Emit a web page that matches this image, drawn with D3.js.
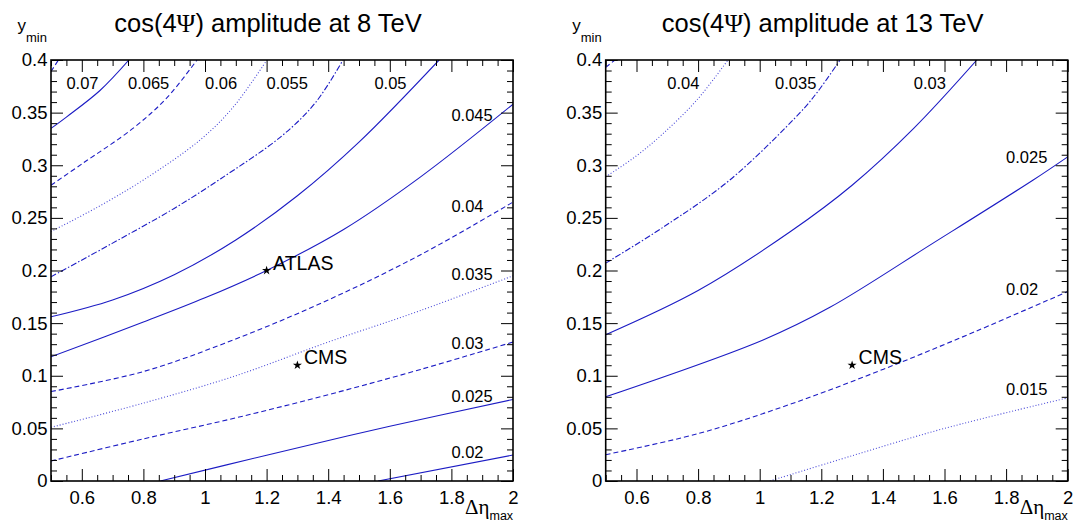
<!DOCTYPE html>
<html>
<head>
<meta charset="utf-8">
<script src="https://cdn.jsdelivr.net/npm/d3@7"></script>
<style>
body { margin: 0; background: #fff; }
svg { display: block; }
text { font-family: "Liberation Sans", Arial, sans-serif; fill: #000; }
</style>
</head>
<body>
<div id="chart"></div>
<script>
// axis ranges and ticks
var xDomain = [0.5, 2],
	yDomain = [0, 0.4];
var xTickValues = [0.6, 0.8, 1, 1.2, 1.4, 1.6, 1.8, 2];
var xTickLabels = ["0.6", "0.8", "1", "1.2", "1.4", "1.6", "1.8", "2"];
var yTickValues = [0, 0.05, 0.1, 0.15, 0.2, 0.25, 0.3, 0.35, 0.4];
var yTickLabels = ["0", "0.05", "0.1", "0.15", "0.2", "0.25", "0.3", "0.35", "0.4"];

// 8 TeV contours, [deta_max, y_min]
var levels8 = [0.075, 0.07, 0.065, 0.06, 0.055, 0.05, 0.045, 0.04, 0.035, 0.03, 0.025, 0.02];
var lines8 = [
	[[0.5, 0.389], [0.524, 0.4]],
	[[0.5, 0.335], [0.551, 0.346], [0.659, 0.371], [0.753, 0.4]],
	[[0.5, 0.281], [0.604, 0.302], [0.766, 0.335], [0.876, 0.364], [0.974, 0.4]],
	[[0.5, 0.237], [0.65, 0.26], [0.8, 0.286], [0.984, 0.324], [1.091, 0.355], [1.201, 0.4]],
	[[0.5, 0.194], [0.7, 0.226], [0.9, 0.259], [1.05, 0.287], [1.25, 0.328], [1.36, 0.36], [1.448, 0.4]],
	[[0.5, 0.156], [0.7, 0.172], [0.9, 0.196], [1.1, 0.229], [1.3, 0.271], [1.5, 0.322], [1.76, 0.4]],
	[[0.5, 0.118], [0.8, 0.151], [1.0, 0.174], [1.2, 0.2], [1.45, 0.239], [1.7, 0.289], [2, 0.358]],
	[[0.5, 0.085], [0.8, 0.104], [1.1, 0.135], [1.4, 0.172], [1.7, 0.215], [2, 0.265]],
	[[0.5, 0.051], [0.8, 0.074], [1.1, 0.1], [1.4, 0.132], [1.7, 0.162], [2, 0.195]],
	[[0.5, 0.019], [0.8, 0.04], [1.1, 0.06], [1.4, 0.082], [1.7, 0.106], [2, 0.132]],
	[[0.855, 0], [1.2, 0.0245], [1.6, 0.052], [2, 0.0775]],
	[[1.562, 0], [2, 0.0247]]
];
var styles8 = ["dashed", "solid", "dashed", "dotted", "dashdot", "solid", "solid", "dashed", "dotted", "dashed", "solid", "solid"];
var labelText8 = ["0.07", "0.065", "0.06", "0.055", "0.05", "0.045", "0.04", "0.035", "0.03", "0.025", "0.02"];
var labelAt8 = [[0.55, 0.372], [0.75, 0.372], [1.0, 0.372], [1.2, 0.372], [1.55, 0.372],
	[1.8, 0.342], [1.8, 0.256], [1.8, 0.191], [1.8, 0.125], [1.8, 0.075], [1.8, 0.022]];
var expNames8 = ["ATLAS", "CMS"];
var expPoints8 = [[1.2, 0.2], [1.3, 0.11]];

// 13 TeV contours
var levels13 = [0.045, 0.04, 0.035, 0.03, 0.025, 0.02, 0.015];
var lines13 = [
	[[0.5, 0.393], [0.53, 0.4]],
	[[0.5, 0.289], [0.6, 0.309], [0.686, 0.33], [0.796, 0.362], [0.897, 0.4]],
	[[0.5, 0.207], [0.686, 0.241], [0.903, 0.286], [1.131, 0.35], [1.186, 0.369], [1.261, 0.4]],
	[[0.5, 0.139], [0.8, 0.181], [1.1, 0.237], [1.3, 0.281], [1.5, 0.335], [1.705, 0.4]],
	[[0.5, 0.08], [1.011, 0.134], [1.228, 0.165], [1.563, 0.226], [1.888, 0.286], [2, 0.308]],
	[[0.5, 0.025], [0.8, 0.045], [1.1, 0.073], [1.4, 0.106], [1.7, 0.142], [2, 0.18]],
	[[1.033, 0], [1.3, 0.024], [1.6, 0.05], [2, 0.079]]
];
var styles13 = ["dashed", "dotted", "dashdot", "solid", "solid", "dashed", "dotted"];
var labelText13 = ["0.04", "0.035", "0.03", "0.025", "0.02", "0.015"];
var labelAt13 = [[0.7, 0.372], [1.05, 0.372], [1.5, 0.372], [1.8, 0.302], [1.8, 0.177], [1.8, 0.082]];
var expNames13 = ["CMS"];
var expPoints13 = [[1.3, 0.11]];

var svgContainer,
	width = 1073,
	height = 522,
	frameWidth = 462,
	frameHeight = 421;

var dashes = {solid: null, dashed: "5,3", dotted: "1,2", dashdot: "6,2,1.5,2"};

function onLoad() {
	svgContainer = d3.select("#chart")
	.append("svg")
	.attr("width", width)
	.attr("height", height);

	drawPanel(1, 51, 60, "8", lines8, styles8, labelText8, labelAt8, expNames8, expPoints8);
	drawPanel(2, 605.7, 60, "13", lines13, styles13, labelText13, labelAt13, expNames13, expPoints13);
}

function drawPanel(id, left, top, energy, lines, styles, labelText, labelAt, expNames, expPoints) {
	var xScale = d3.scaleLinear().domain(xDomain).range([0, frameWidth]);
	var yScale = d3.scaleLinear().domain(yDomain).range([frameHeight, 0]);

	var g = svgContainer.append("g")
	.attr("transform", "translate(" + left + "," + top + ")");

	g.append("clipPath")
	.attr("id", "clip" + id)
	.append("rect")
	.attr("width", frameWidth)
	.attr("height", frameHeight);

	var line = d3.line()
	.x(d => xScale(d[0]))
	.y(d => yScale(d[1]))
	.curve(d3.curveCatmullRom.alpha(0.5));

	g.append("g")
	.attr("clip-path", "url(#clip" + id + ")")
	.selectAll("path")
	.data(lines)
	.join("path")
	.attr("d", line)
	.attr("fill", "none")
	.attr("stroke", (d, i) => styles[i] === "dotted" ? "#4a4ad8" : "#1c1cc4")
	.attr("stroke-width", 1.1)
	.attr("stroke-dasharray", (d, i) => dashes[styles[i]]);

	drawAxes(g, xScale, yScale);

	g.selectAll("text.level")
	.data(labelText)
	.join("text")
	.attr("class", "level")
	.attr("x", (d, i) => xScale(labelAt[i][0]))
	.attr("y", (d, i) => yScale(labelAt[i][1]))
	.attr("font-size", 16.5)
	.text(d => d);

	expPoints.forEach((p, i) => {
		g.append("path")
		.attr("d", d3.symbol().type(d3.symbolStar).size(26))
		.attr("transform", "translate(" + xScale(p[0]) + "," + yScale(p[1]) + ")")
		.attr("fill", "#000");

		g.append("text")
		.attr("x", xScale(p[0]) + 6.5)
		.attr("y", yScale(p[1]) - 1)
		.attr("font-size", 19.5)
		.text(expNames[i]);
	});

	// title and axis titles
	var title = g.append("text")
	.attr("x", 217)
	.attr("y", -28)
	.attr("text-anchor", "middle")
	.attr("font-size", 25.5);
	title.append("tspan").text("cos(4");
	title.append("tspan").attr("font-family", "Liberation Serif, serif").text("\u03A8");
	title.append("tspan").text(") amplitude at " + energy + " TeV");

	var yTitle = g.append("text")
	.attr("x", -33.5)
	.attr("y", -29)
	.attr("font-size", 17);
	yTitle.append("tspan").text("y");
	yTitle.append("tspan").attr("font-size", 13).attr("dy", 11).text("min");

	var xTitle = g.append("text")
	.attr("x", frameWidth - 48)
	.attr("y", frameHeight + 33)
	.attr("font-size", 21);
	xTitle.append("tspan").attr("font-family", "Liberation Serif, serif").text("\u0394\u03B7");
	xTitle.append("tspan").attr("font-size", 12.5).attr("dy", 6).text("max");
}

function drawAxes(g, xScale, yScale) {
	var xMinor = d3.range(0.5, 2.0001, 0.05).filter(v => !xTickValues.some(t => Math.abs(t - v) < 1e-6));
	var yMinor = d3.range(0, 0.4001, 0.01).filter(v => !yTickValues.some(t => Math.abs(t - v) < 1e-6));

	var bottomAxis = g.append("g")
	.attr("transform", "translate(0," + frameHeight + ")")
	.call(d3.axisBottom(xScale).tickValues(xTickValues).tickFormat((d, i) => xTickLabels[i]).tickSize(-12).tickPadding(10));
	styleAxis(bottomAxis);

	g.append("g")
	.attr("transform", "translate(0," + frameHeight + ")")
	.call(d3.axisBottom(xScale).tickValues(xMinor).tickFormat("").tickSize(-6))
	.call(a => a.select(".domain").remove());

	g.append("g")
	.call(d3.axisTop(xScale).tickValues(xTickValues).tickFormat("").tickSize(-12))
	.call(a => a.select(".domain").remove());
	g.append("g")
	.call(d3.axisTop(xScale).tickValues(xMinor).tickFormat("").tickSize(-6))
	.call(a => a.select(".domain").remove());

	var leftAxis = g.append("g")
	.call(d3.axisLeft(yScale).tickValues(yTickValues).tickFormat((d, i) => yTickLabels[i]).tickSize(-12).tickPadding(3.5));
	styleAxis(leftAxis);

	g.append("g")
	.call(d3.axisLeft(yScale).tickValues(yMinor).tickFormat("").tickSize(-6))
	.call(a => a.select(".domain").remove());

	g.append("g")
	.attr("transform", "translate(" + frameWidth + ",0)")
	.call(d3.axisRight(yScale).tickValues(yTickValues).tickFormat("").tickSize(-12))
	.call(a => a.select(".domain").remove());
	g.append("g")
	.attr("transform", "translate(" + frameWidth + ",0)")
	.call(d3.axisRight(yScale).tickValues(yMinor).tickFormat("").tickSize(-6))
	.call(a => a.select(".domain").remove());

	g.append("rect")
	.attr("width", frameWidth)
	.attr("height", frameHeight)
	.attr("fill", "none")
	.attr("stroke", "#000")
	.attr("stroke-width", 1.6);
}

function styleAxis(axisGroup) {
	axisGroup.select(".domain").remove();
	axisGroup.attr("font-size", 18.5)
	.attr("font-family", "Liberation Sans, Arial, sans-serif");
}

onLoad();
</script>
</body>
</html>
